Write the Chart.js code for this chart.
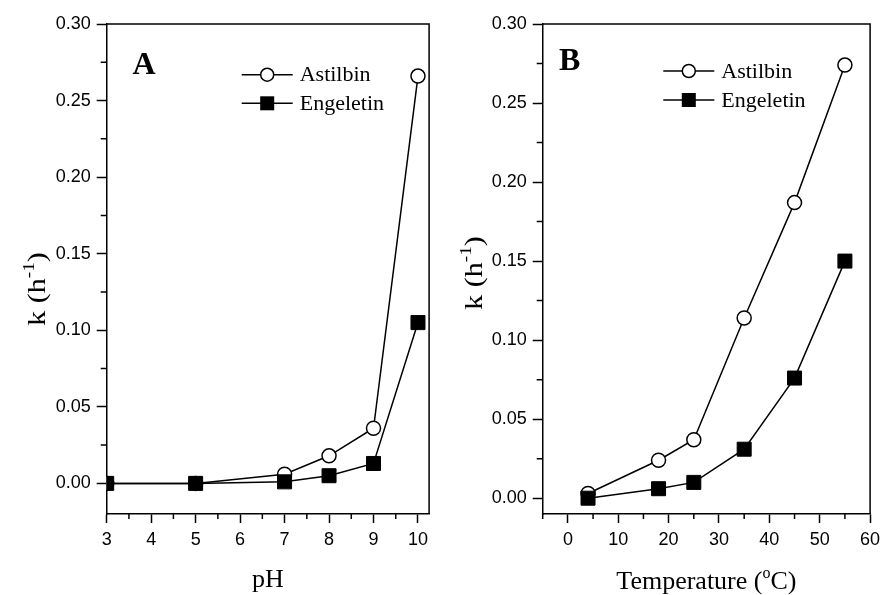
<!DOCTYPE html>
<html>
<head>
<meta charset="utf-8">
<script src="https://cdn.jsdelivr.net/npm/chart.js@4.4.1/dist/chart.umd.min.js"></script>
<style>
  html, body { margin: 0; padding: 0; background: #fff; }
  #wrap { position: relative; width: 881px; height: 595px; overflow: hidden; }
  canvas { position: absolute; top: 0; }
</style>
</head>
<body>
<div id="wrap">
  <canvas id="chartA" width="440" height="595" style="left:0"></canvas>
  <canvas id="chartB" width="441" height="595" style="left:440px"></canvas>
</div>
<script>
// Datos
const seriesNames = ['Astilbin', 'Engeletin'];

const phValues = [3, 5, 7, 8, 9, 10];
const phAstilbin = [0.000, 0.000, 0.006, 0.018, 0.036, 0.266];
const phEngeletin = [0.000, 0.000, 0.001, 0.005, 0.013, 0.105];

const tempValues = [4, 18, 25, 35, 45, 55];
const tempAstilbin = [0.003, 0.024, 0.037, 0.114, 0.187, 0.274];
const tempEngeletin = [0.000, 0.006, 0.010, 0.031, 0.076, 0.150];

const phTicks = [3, 4, 5, 6, 7, 8, 9, 10];
const tempTicks = [0, 10, 20, 30, 40, 50, 60];
const kTicks = [0.00, 0.05, 0.10, 0.15, 0.20, 0.25, 0.30];

Chart.defaults.font.family = '"Liberation Sans", Arial, sans-serif';
Chart.defaults.color = '#000';

// ticks menores a mitad de camino entre los mayores
function minorTicks(ticks, scale) {
  const step = ticks[1] - ticks[0];
  const out = [];
  for (let i = -1; i < ticks.length; i++) {
    const v = ticks[0] + (i + 0.5) * step;
    if (v >= scale.min - 1e-9 && v <= scale.max + 1e-9) out.push(v);
  }
  return out;
}

function drawParts(ctx, parts, cx, y, size, supSize, lift) {
  const mainFont = size + 'px "Liberation Serif", "Times New Roman", serif';
  const supFont = supSize + 'px "Liberation Serif", "Times New Roman", serif';
  let w = 0;
  parts.forEach(p => { ctx.font = p.sup ? supFont : mainFont; w += ctx.measureText(p.t).width; });
  let x = cx - w / 2;
  ctx.textAlign = 'left';
  ctx.textBaseline = 'alphabetic';
  parts.forEach(p => {
    ctx.font = p.sup ? supFont : mainFont;
    ctx.fillText(p.t, x, p.sup ? y - lift : y);
    x += ctx.measureText(p.t).width;
  });
}

function drawMarker(ctx, style, x, y) {
  ctx.lineWidth = 1.5;
  ctx.strokeStyle = '#000';
  if (style === 'rect') {
    ctx.fillStyle = '#000';
    ctx.fillRect(x - 7, y - 7, 14, 14);
  } else {
    ctx.fillStyle = '#fff';
    ctx.beginPath();
    ctx.arc(x, y, 6.5, 0, Math.PI * 2);
    ctx.fill();
    ctx.stroke();
  }
}

function makeDecor(s) {
  return {
    id: 'decor',
    afterDraw(chart) {
      const ctx = chart.ctx;
      const a = chart.chartArea;
      const xs = chart.scales.x;
      const ys = chart.scales.y;
      ctx.save();
      ctx.strokeStyle = '#000';
      ctx.lineWidth = 1.5;

      // marco superior y derecho
      ctx.beginPath();
      ctx.moveTo(a.left, a.top);
      ctx.lineTo(a.right, a.top);
      ctx.lineTo(a.right, a.bottom);
      ctx.stroke();

      // ticks menores
      ctx.beginPath();
      minorTicks(s.xTicks, xs).forEach(v => {
        const px = xs.getPixelForValue(v);
        ctx.moveTo(px, a.bottom);
        ctx.lineTo(px, a.bottom + 5);
      });
      minorTicks(s.yTicks, ys).forEach(v => {
        const py = ys.getPixelForValue(v);
        ctx.moveTo(a.left, py);
        ctx.lineTo(a.left - 6, py);
      });
      ctx.stroke();

      // leyenda
      seriesNames.forEach((name, i) => {
        const ds = chart.data.datasets.find(d => d.label === name);
        const y = s.legendY + i * s.legendGap;
        ctx.strokeStyle = '#000';
        ctx.lineWidth = 1.5;
        ctx.beginPath();
        ctx.moveTo(s.legendX, y);
        ctx.lineTo(s.legendX + 51, y);
        ctx.stroke();
        drawMarker(ctx, ds.pointStyle, s.legendX + 25.5, y);
        ctx.fillStyle = '#000';
        ctx.font = '22px "Liberation Serif", "Times New Roman", serif';
        ctx.textAlign = 'left';
        ctx.textBaseline = 'middle';
        ctx.fillText(name, s.legendX + 58, y + 1);
      });

      // letra del panel
      ctx.fillStyle = '#000';
      ctx.font = 'bold 32px "Liberation Serif", "Times New Roman", serif';
      ctx.textAlign = 'left';
      ctx.textBaseline = 'alphabetic';
      ctx.fillText(s.letter, s.letterX, s.letterY);

      // títulos de ejes
      drawParts(ctx, s.xTitle, (a.left + a.right) / 2, s.xTitleY, 26, 16, 11);
      // el título vertical del original está algo estirado a lo largo del texto
      ctx.translate(s.yTitleX, s.yTitleY);
      ctx.rotate(-Math.PI / 2);
      ctx.scale(1.2, 1);
      drawParts(ctx, [{ t: 'k (h' }, { t: '-1', sup: true }, { t: ')' }], 0, 0, 25, 16, 11);
      ctx.restore();
    }
  };
}

function makeChart(id, s) {
  const toPoints = (xs, ys) => xs.map((x, i) => ({ x: x, y: ys[i] }));
  new Chart(document.getElementById(id), {
    type: 'line',
    data: {
      datasets: [
        {
          label: 'Engeletin',
          data: toPoints(s.xValues, s.engeletin),
          order: 0,
          pointStyle: 'rect',
          pointRadius: 9.9,
          pointBackgroundColor: '#000',
          pointBorderColor: '#000',
          pointBorderWidth: 1,
          borderColor: '#000',
          borderWidth: 1.5,
          tension: 0
        },
        {
          label: 'Astilbin',
          data: toPoints(s.xValues, s.astilbin),
          order: 1,
          pointStyle: 'circle',
          pointRadius: 7,
          pointBackgroundColor: '#fff',
          pointBorderColor: '#000',
          pointBorderWidth: 1.5,
          borderColor: '#000',
          borderWidth: 1.5,
          tension: 0
        }
      ]
    },
    options: {
      responsive: false,
      animation: false,
      events: [],
      layout: { padding: { top: 24, right: s.rightPad, left: 0, bottom: 0 } },
      plugins: { legend: { display: false }, tooltip: { enabled: false } },
      scales: {
        x: {
          type: 'linear',
          min: s.xMin,
          max: s.xMax,
          afterBuildTicks: sc => { sc.ticks = s.xTicks.map(v => ({ value: v })); },
          afterFit: sc => { sc.height = 595 - 514; sc.paddingLeft = 0; sc.paddingRight = 0; },
          ticks: { autoSkip: false, maxRotation: 0, padding: 6, font: { size: 18 }, callback: v => String(v) },
          grid: { drawOnChartArea: false, tickLength: 9, tickColor: '#000', tickWidth: 1.5 },
          border: { color: '#000', width: 1.5 }
        },
        y: {
          type: 'linear',
          min: s.yMin,
          max: 0.30,
          afterBuildTicks: sc => { sc.ticks = kTicks.map(v => ({ value: v })); },
          afterFit: sc => { sc.width = s.leftW; sc.paddingTop = 0; sc.paddingBottom = 0; },
          ticks: { autoSkip: false, padding: 6, font: { size: 18 }, callback: v => Number(v).toFixed(2) },
          grid: { drawOnChartArea: false, tickLength: 10, tickColor: '#000', tickWidth: 1.5 },
          border: { color: '#000', width: 1.5 }
        }
      }
    },
    plugins: [makeDecor(s)]
  });
}

// Panel A: pH
makeChart('chartA', {
  xValues: phValues, astilbin: phAstilbin, engeletin: phEngeletin,
  xTicks: phTicks, yTicks: kTicks,
  xMin: 3, xMax: 10.25, yMin: -0.02,
  leftW: 106.7, rightPad: 6,
  legendX: 241.7, legendY: 74.7, legendGap: 28.6,
  letter: 'A', letterX: 132.5, letterY: 74,
  xTitle: [{ t: 'pH' }], xTitleY: 587,
  yTitleX: 45, yTitleY: 289
});

// Panel B: temperatura
makeChart('chartB', {
  xValues: tempValues, astilbin: tempAstilbin, engeletin: tempEngeletin,
  xTicks: tempTicks, yTicks: kTicks,
  xMin: -5, xMax: 60, yMin: -0.01,
  leftW: 102.7, rightPad: 9.3,
  legendX: 223.3, legendY: 71, legendGap: 29,
  letter: 'B', letterX: 119, letterY: 70,
  xTitle: [{ t: 'Temperature (' }, { t: 'o', sup: true }, { t: 'C)' }], xTitleY: 589,
  yTitleX: 42, yTitleY: 273
});
</script>
</body>
</html>
